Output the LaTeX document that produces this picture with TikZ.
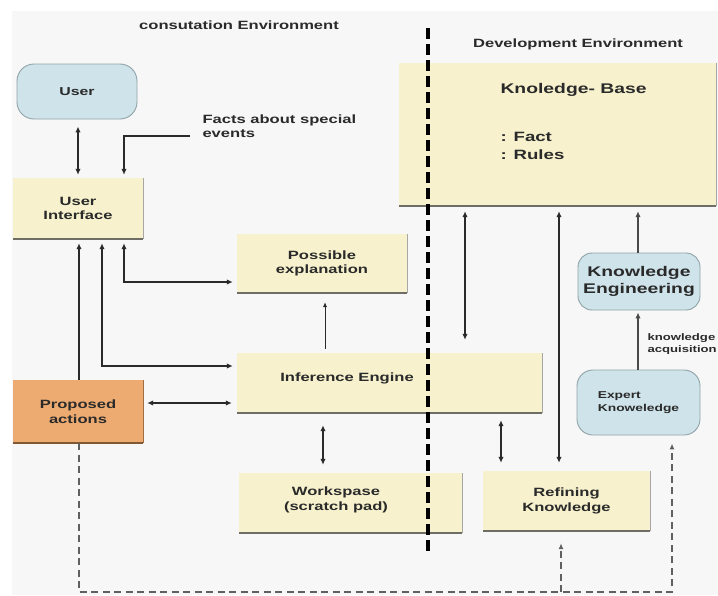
\documentclass[tikz,border=0pt]{standalone}
\usepackage{fontspec}
\setmainfont{Liberation Sans}[FakeStretch=1.38]
\usetikzlibrary{arrows.meta,calc}
\definecolor{bg}{HTML}{F7F7F7}
\definecolor{byel}{HTML}{F7F2CD}
\definecolor{bblue}{HTML}{CFE3EA}
\definecolor{bblueedge}{HTML}{8FA3A8}
\definecolor{borange}{HTML}{EDAB71}
\definecolor{borangeedge}{HTML}{A06E40}
\definecolor{ink}{HTML}{2A2A2A}
\definecolor{edgec}{HTML}{6E6E66}
\newcommand\setfs[2]{\fontsize{#1}{#2}\selectfont}
\begin{document}
\begin{tikzpicture}[x=1pt,y=-1pt,
 font=\setfs{12}{14.5}\bfseries, text=ink,
 ybox/.style={rectangle, fill=byel, inner sep=0pt, align=center},
 obox/.style={rectangle, fill=borange, inner sep=0pt, align=center},
 rbox/.style={rectangle, rounded corners=14pt, fill=bblue, draw=bblueedge, line width=0.9pt, inner sep=0pt, align=center},
 arr/.style={draw=ink, line width=1.6pt, -{Latex[length=6pt,width=5.5pt]}},
 darr/.style={draw=ink, line width=1.6pt, {Latex[length=6pt,width=5.5pt]}-{Latex[length=6pt,width=5.5pt]}},
 dashline/.style={draw=gray!75!black, line width=1.5pt, dash pattern=on 7pt off 4.5pt},
 divider/.style={draw=black, line width=4pt, dash pattern=on 11pt off 5pt},
 edgeb/.style={draw=edgec, line width=2pt},
 edger/.style={draw=gray!70, line width=1.2pt}
]
% background
\fill[white] (0,0) rectangle (718,595);
\fill[bg] (12,11) rectangle (718,595);
\useasboundingbox (0,0) rectangle (718,595);

% helper coordinates
\coordinate (x79) at (79,0);
\coordinate (x102) at (102,0);
\coordinate (x124) at (124,0);
\coordinate (x323) at (323,0);
\coordinate (x325) at (325,0);
\coordinate (x465) at (465,0);
\coordinate (x501) at (501,0);
\coordinate (x559) at (559,0);
\coordinate (x561) at (561,0);
\coordinate (x638) at (638,0);
\coordinate (x672) at (672,0);
\coordinate (y282) at (0,282);
\coordinate (y366) at (0,366);
\coordinate (y403) at (0,403);
\coordinate (ybot) at (0,592);
\coordinate (fend) at (190,136);
\coordinate (dtop) at (428,28);
\coordinate (dbot) at (428,552);

% titles
\node (cenv) at (239,25) {consutation Environment};
\node (denv) at (578,44) {Development Environment};

% boxes
\node[rbox, rounded corners=17pt, minimum width=120pt, minimum height=55pt, font=\setfs{11.5}{14}\bfseries] (user) at (77,91.5) {User};
\node[ybox, minimum width=130pt, minimum height=61pt] (ui) at (78,208.5) {User\\Interface};
\node[obox, minimum width=130pt, minimum height=63pt] (pa) at (78,411.5) {Proposed\\actions};
\node[ybox, minimum width=170pt, minimum height=59pt] (pe) at (322,263.5) {Possible\\explanation};
\node[ybox, minimum width=305pt, minimum height=60pt] (ie) at (389.5,383) {};
\node[ybox, minimum width=223pt, minimum height=60pt] (ws) at (350.5,503) {};
\node[ybox, minimum width=167pt, minimum height=60pt] (rk) at (566.5,501) {Refining\\Knowledge};
\node[ybox, minimum width=317pt, minimum height=143pt] (kb) at (557.5,134.5) {};
\node[rbox, minimum width=122pt, minimum height=57pt, font=\setfs{14}{17}\bfseries] (ke) at (639,281.5) {Knowledge\\Engineering};
\node[rbox, rounded corners=16pt, minimum width=123pt, minimum height=65pt, align=left, font=\setfs{10}{12.5}\bfseries] (ek) at (638.5,402.5) {Expert\\Knoweledge};

% box edges (3D look)
\foreach \n in {ui,pe,ie,ws,rk,kb}{
  \draw[edger] (\n.north east) -- (\n.south east);
  \draw[edgeb] (\n.south east) -- (\n.south west);
}
\draw[draw=borangeedge, line width=1.2pt] (pa.north east) -- (pa.south east);
\draw[draw=borangeedge!80!black, line width=2pt] (pa.south east) -- (pa.south west);

% texts inside boxes
\node (iet) at (347,378) {Inference Engine};
\node[align=center] (wst) at (336,500) {Workspase\\(scratch pad)};
\node[anchor=west, font=\setfs{14}{17}\bfseries] (kbt) at (497,90) {Knoledge- Base};
\node[anchor=west, align=left, font=\setfs{13.5}{18}\bfseries] (kbi) at (497,146) {: Fact\\: Rules};
\node[anchor=west, align=left] (facts) at (199,126) {Facts about special\\events};
\node[anchor=west, align=left, font=\setfs{9.5}{12}\bfseries] (ka) at (644,344) {knowledge\\acquisition};

% connectors
\draw[darr, shorten <=7pt, shorten >=3pt] (ui.north |- user.south) -- (ui.north);
\draw[arr, shorten >=3pt] (fend) -| (ui.north -| x124);
\draw[darr, shorten <=4pt, shorten >=4pt] (ui.south -| x124) |- (pe.west |- y282);
\draw[darr, shorten <=4pt, shorten >=4pt] (ui.south -| x102) |- (ie.west |- y366);
\draw[arr, shorten >=4pt] (pa.north -| x79) -- (ui.south -| x79);
\draw[darr, shorten <=4pt, shorten >=5pt] (pa.east |- y403) -- (ie.west |- y403);
\draw[draw=ink, line width=1pt, -{Latex[length=5pt,width=4.5pt]}, shorten <=4pt, shorten >=9pt] (ie.north -| x325) -- (pe.south -| x325);
\draw[darr, shorten <=12pt, shorten >=8pt] (ie.south -| x323) -- (ws.north -| x323);
\draw[darr, shorten <=7pt, shorten >=8pt] (ie.south -| x501) -- (rk.north -| x501);
\draw[darr, shorten <=5pt, shorten >=13pt] (kb.south -| x465) -- (ie.north -| x465);
\draw[darr, shorten <=5pt, shorten >=8pt] (kb.south -| x559) -- (rk.north -| x559);
\draw[draw=ink!85, line width=1.4pt, -{Latex[length=6pt,width=5.5pt]}, shorten >=5pt] (ke.north -| x638) -- (kb.south -| x638);
\draw[draw=ink!85, line width=1.4pt, -{Latex[length=6pt,width=5.5pt]}, shorten >=2pt] (ek.north -| x638) -- (ke.south -| x638);

% dashed feedback lines
\draw[dashline, -{Latex[length=6pt,width=5pt]}, shorten >=8pt] (pa.south -| x79) -- (x79 |- ybot) -| (ek.south -| x672);
\draw[dashline, -{Latex[length=6pt,width=5pt]}, shorten >=12pt] (x561 |- ybot) -- (rk.south -| x561);

% environment divider
\draw[divider] (dtop) -- (dbot);
\end{tikzpicture}
\end{document}
